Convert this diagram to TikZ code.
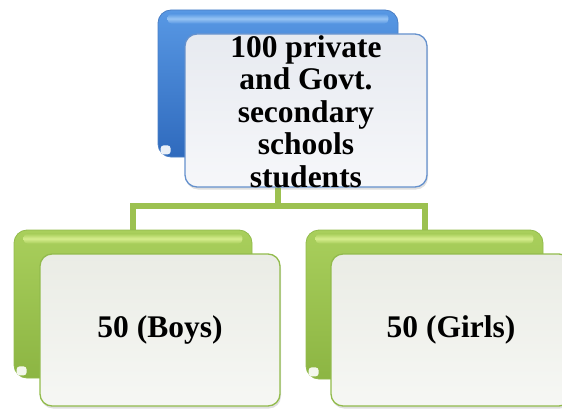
\documentclass[tikz,border=0pt]{standalone}
\usepackage{fontspec}
\setmainfont{Liberation Serif}
\usetikzlibrary{shadows}
\pgfdeclarelayer{bg}
\pgfsetlayers{bg,main}
\definecolor{bluetop}{HTML}{5898E4}
\definecolor{bluebot}{HTML}{2F6ABD}
\definecolor{blueedge}{HTML}{4A7EC4}
\definecolor{bluelite}{HTML}{A8D0F8}
\definecolor{greentop}{HTML}{A9CF5C}
\definecolor{greenbot}{HTML}{8CB543}
\definecolor{greenedge}{HTML}{92BB4C}
\definecolor{greenlite}{HTML}{E2F59A}
\definecolor{frontblue}{HTML}{E7EAF0}
\definecolor{frontbluelo}{HTML}{F6F7FA}
\definecolor{frontgreen}{HTML}{EAECE5}
\definecolor{frontgreenlo}{HTML}{F6F7F4}
\definecolor{linkgreen}{HTML}{9CC150}
\tikzset{
  backbox/.style={rectangle, rounded corners=13pt, inner sep=0pt},
  bluebackbox/.style={backbox, draw=blueedge, line width=0.8pt, top color=bluetop, bottom color=bluebot},
  greenbackbox/.style={backbox, draw=greenedge, line width=0.8pt, top color=greentop, bottom color=greenbot},
  frontbox/.style={rectangle, rounded corners=12pt, inner sep=0pt, line width=1.3pt,
    drop shadow={opacity=0.25, shadow xshift=1pt, shadow yshift=-2.5pt}},
  bluefrontbox/.style={frontbox, draw=blueedge!85, top color=frontblue, bottom color=frontbluelo},
  greenfrontbox/.style={frontbox, draw=greenedge, top color=frontgreen, bottom color=frontgreenlo},
  label/.style={font=\fontsize{31.5}{32.5}\selectfont\bfseries, align=center, inner sep=0pt, text=black},
  link/.style={draw=linkgreen, line width=6pt},
}
\begin{document}
\begin{tikzpicture}[x=1pt,y=-1pt]
\useasboundingbox (0,0) rectangle (562,409);
\clip (0,0) rectangle (562,409);
% back boxes
\node[bluebackbox, minimum width=240pt, minimum height=147pt] (tb) at (278,83.5) {};
\node[greenbackbox, minimum width=238pt, minimum height=148pt] (lb) at (133,304) {};
\node[greenbackbox, minimum width=237pt, minimum height=149pt] (rb) at (424.5,304.5) {};
% gloss strips
\shade[rounded corners=4pt, top color=bluetop, bottom color=bluetop, middle color=bluelite, opacity=0.8]
  ([xshift=10pt,yshift=-4pt]tb.north west) rectangle ([xshift=-10pt,yshift=-14pt]tb.north east);
\shade[rounded corners=4pt, top color=greentop, bottom color=greentop, middle color=greenlite, opacity=0.8]
  ([xshift=10pt,yshift=-4pt]lb.north west) rectangle ([xshift=-10pt,yshift=-14pt]lb.north east);
\shade[rounded corners=4pt, top color=greentop, bottom color=greentop, middle color=greenlite, opacity=0.8]
  ([xshift=10pt,yshift=-4pt]rb.north west) rectangle ([xshift=-10pt,yshift=-14pt]rb.north east);
% corner glints
\fill[white, opacity=0.9, rounded corners=3pt] ([xshift=3pt,yshift=3pt]tb.south west) rectangle ([xshift=13pt,yshift=12pt]tb.south west);
\fill[white, opacity=0.9, rounded corners=3pt] ([xshift=3pt,yshift=3pt]lb.south west) rectangle ([xshift=13pt,yshift=12pt]lb.south west);
\fill[white, opacity=0.9, rounded corners=3pt] ([xshift=3pt,yshift=3pt]rb.south west) rectangle ([xshift=13pt,yshift=12pt]rb.south west);
% front boxes
\node[bluefrontbox, minimum width=242pt, minimum height=153pt] (tf) at (306,110.5) {};
\node[greenfrontbox, minimum width=240pt, minimum height=152pt] (lf) at (160,330) {};
\node[greenfrontbox, minimum width=240pt, minimum height=152pt] (rf) at (451,330) {};
% labels
\node[label] (tt) at ([yshift=-1pt]tf.center) {100 private\\and Govt.\\secondary\\schools\\students};
\node[label] (lt) at (lf.center) {50 (Boys)};
\node[label] (rt) at (rf.center) {50 (Girls)};
% connectors
\coordinate (j) at (278,206);
\begin{pgfonlayer}{bg}
\draw[link] (tb.south) -- (j) -| (lb.north);
\draw[link] (j) -| (rb.north);
\end{pgfonlayer}
\end{tikzpicture}
\end{document}
